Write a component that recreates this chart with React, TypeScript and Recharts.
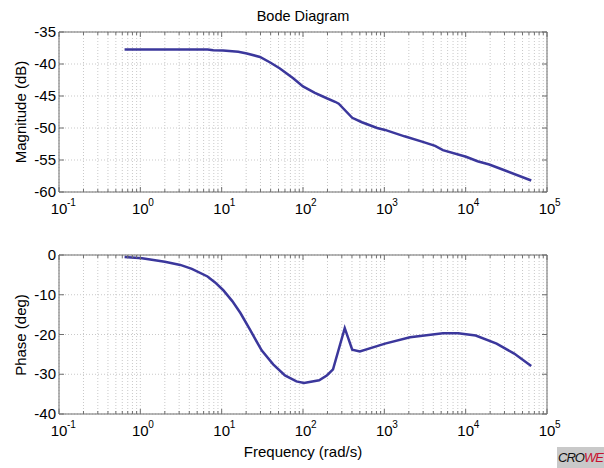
import React from "react";
import {
  LineChart,
  Line,
  XAxis,
  YAxis,
  CartesianGrid,
  ReferenceArea,
} from "recharts";

// frequency grid (rad/s): decades and the minor multipliers inside each decade
const decades = [0.1, 1, 10, 100, 1000, 10000, 100000];
const minorSteps = [1, 2, 3, 4, 5, 6, 7, 8, 9];
const decadeExp: { [key: number]: string } = {
  0.1: "-1",
  1: "0",
  10: "1",
  100: "2",
  1000: "3",
  10000: "4",
  100000: "5",
};

// magnitude response
const magFreq = [
  0.64, 6.7, 7.9, 10.4, 16, 20.4, 29.6, 40, 52, 75, 100, 140, 196, 248, 275,
  403, 530, 815, 1020, 1770, 3040, 4210, 5250, 10100, 14000, 19500, 30000,
  64000,
];
const magDb = [
  -37.75, -37.75, -37.85, -37.9, -38.1, -38.35, -38.9, -39.8, -40.7, -42.2,
  -43.5, -44.5, -45.35, -45.9, -46.2, -48.4, -49.1, -50.0, -50.3, -51.3, -52.2,
  -52.8, -53.45, -54.5, -55.2, -55.7, -56.6, -58.2,
];

// phase response
const phaseFreq = [
  0.64, 1.05, 2.0, 3.1, 4.3, 6.7, 8.3, 10.4, 13.5, 17, 22.3, 31, 43, 60, 83,
  103, 158, 198, 234, 326, 403, 500, 1020, 2070, 5250, 8100, 13300, 24000,
  39500, 64000,
];
const phaseDeg = [
  -0.5, -0.83, -1.7, -2.5, -3.5, -5.4, -6.9, -8.8, -11.6, -14.6, -18.8, -24,
  -27.5, -30.3, -31.8, -32.2, -31.5, -30.25, -28.75, -18.4, -23.8, -24.25,
  -22.3, -20.7, -19.7, -19.7, -20.25, -22.3, -24.8, -27.9,
];

const magTicks = [-60, -55, -50, -45, -40, -35];
const phaseTicks = [-40, -30, -20, -10, 0];

const xTicks: number[] = [];
decades.slice(0, -1).forEach((d) => minorSteps.forEach((m) => xTicks.push(m * d)));
xTicks.push(100000);

const magData = magFreq.map((f, i) => ({ f, v: magDb[i] }));
const phaseData = phaseFreq.map((f, i) => ({ f, v: phaseDeg[i] }));

const FONT = "'Liberation Sans', Arial, sans-serif";
const LINE = "#3b379c";
const FRAME = "#6f6f6f";
const W = 604;
const LEFT = 59;
const RIGHT = 547;

const makeXTick = (top: number, bottom: number) => (props: any) => {
  const { x, payload } = props;
  const v = payload.value;
  const exp = decadeExp[v];
  const major = exp !== undefined;
  const len = major ? 5 : 3;
  return (
    <g>
      <line x1={x} x2={x} y1={bottom} y2={bottom - len} stroke={FRAME} />
      <line x1={x} x2={x} y1={top} y2={top + len} stroke={FRAME} />
      {major && (
        <text fontFamily={FONT} fill="#000">
          <tspan x={x} y={bottom + 22} fontSize={15} textAnchor="middle">
            10
          </tspan>
          <tspan x={x + 8} y={bottom + 14} fontSize={10} textAnchor="start">
            {exp}
          </tspan>
        </text>
      )}
    </g>
  );
};

const YTick = (props: any) => {
  const { y, payload } = props;
  return (
    <g>
      <line x1={LEFT} x2={LEFT + 5} y1={y} y2={y} stroke={FRAME} />
      <line x1={RIGHT} x2={RIGHT - 5} y1={y} y2={y} stroke={FRAME} />
      <text
        x={LEFT - 3}
        y={y + 5}
        textAnchor="end"
        fontSize={15}
        fontFamily={FONT}
        fill="#000"
      >
        {payload.value}
      </text>
    </g>
  );
};

const textStyle: React.CSSProperties = {
  position: "absolute",
  fontFamily: FONT,
  color: "#000",
  whiteSpace: "nowrap",
};

const App: React.FC = () => {
  return (
    <div
      style={{
        position: "absolute",
        left: 0,
        top: 0,
        width: W,
        height: 468,
        background: "#fff",
        overflow: "hidden",
      }}
    >
      <div style={{ position: "absolute", left: 0, top: 0 }}>
        <LineChart
          width={W}
          height={225}
          data={magData}
          margin={{ top: 32, right: W - RIGHT, bottom: 5, left: 14 }}
        >
          <CartesianGrid stroke="#c9c9c9" strokeDasharray="1 2" />
          <XAxis
            dataKey="f"
            type="number"
            scale="log"
            domain={[0.1, 100000]}
            ticks={xTicks}
            interval={0}
            allowDataOverflow
            axisLine={false}
            tickLine={false}
            tickSize={0}
            height={28}
            tick={makeXTick(32, 192)}
          />
          <YAxis
            type="number"
            domain={[-60, -35]}
            ticks={magTicks}
            interval={0}
            allowDataOverflow
            axisLine={false}
            tickLine={false}
            tickSize={0}
            width={45}
            tick={YTick}
          />
          <ReferenceArea
            x1={0.1}
            x2={100000}
            y1={-60}
            y2={-35}
            fill="none"
            stroke={FRAME}
            fillOpacity={0}
            ifOverflow="visible"
          />
          <Line
            type="linear"
            dataKey="v"
            stroke={LINE}
            strokeWidth={2.5}
            dot={false}
            isAnimationActive={false}
          />
        </LineChart>
      </div>
      <div style={{ position: "absolute", left: 0, top: 225 }}>
        <LineChart
          width={W}
          height={243}
          data={phaseData}
          margin={{ top: 30, right: W - RIGHT, bottom: 26, left: 14 }}
        >
          <CartesianGrid stroke="#c9c9c9" strokeDasharray="1 2" />
          <XAxis
            dataKey="f"
            type="number"
            scale="log"
            domain={[0.1, 100000]}
            ticks={xTicks}
            interval={0}
            allowDataOverflow
            axisLine={false}
            tickLine={false}
            tickSize={0}
            height={28}
            tick={makeXTick(30, 189)}
          />
          <YAxis
            type="number"
            domain={[-40, 0]}
            ticks={phaseTicks}
            interval={0}
            allowDataOverflow
            axisLine={false}
            tickLine={false}
            tickSize={0}
            width={45}
            tick={YTick}
          />
          <ReferenceArea
            x1={0.1}
            x2={100000}
            y1={-40}
            y2={0}
            fill="none"
            stroke={FRAME}
            fillOpacity={0}
            ifOverflow="visible"
          />
          <Line
            type="linear"
            dataKey="v"
            stroke={LINE}
            strokeWidth={2.5}
            dot={false}
            isAnimationActive={false}
          />
        </LineChart>
      </div>

      <div
        style={{
          ...textStyle,
          left: LEFT,
          width: RIGHT - LEFT,
          top: 8,
          textAlign: "center",
          fontSize: 14.5,
        }}
      >
        Bode Diagram
      </div>
      <div
        style={{
          ...textStyle,
          left: LEFT,
          width: RIGHT - LEFT,
          top: 443,
          textAlign: "center",
          fontSize: 15,
        }}
      >
        Frequency (rad/s)
      </div>
      <div
        style={{
          ...textStyle,
          left: 20,
          top: 112,
          fontSize: 15,
          transform: "translate(-50%, -50%) rotate(-90deg)",
        }}
      >
        Magnitude (dB)
      </div>
      <div
        style={{
          ...textStyle,
          left: 20,
          top: 335,
          fontSize: 15,
          transform: "translate(-50%, -50%) rotate(-90deg)",
        }}
      >
        Phase (deg)
      </div>
      <div
        style={{
          ...textStyle,
          left: 557,
          top: 447,
          width: 47,
          height: 21,
          background: "#c9c9c9",
          fontSize: 13,
          fontStyle: "italic",
          lineHeight: "21px",
          letterSpacing: -1,
          textAlign: "center",
          overflow: "hidden",
        }}
      >
        <span style={{ color: "#111" }}>CRO</span>
        <span style={{ color: "#c8102e" }}>WE</span>
      </div>
    </div>
  );
};

export default App;
